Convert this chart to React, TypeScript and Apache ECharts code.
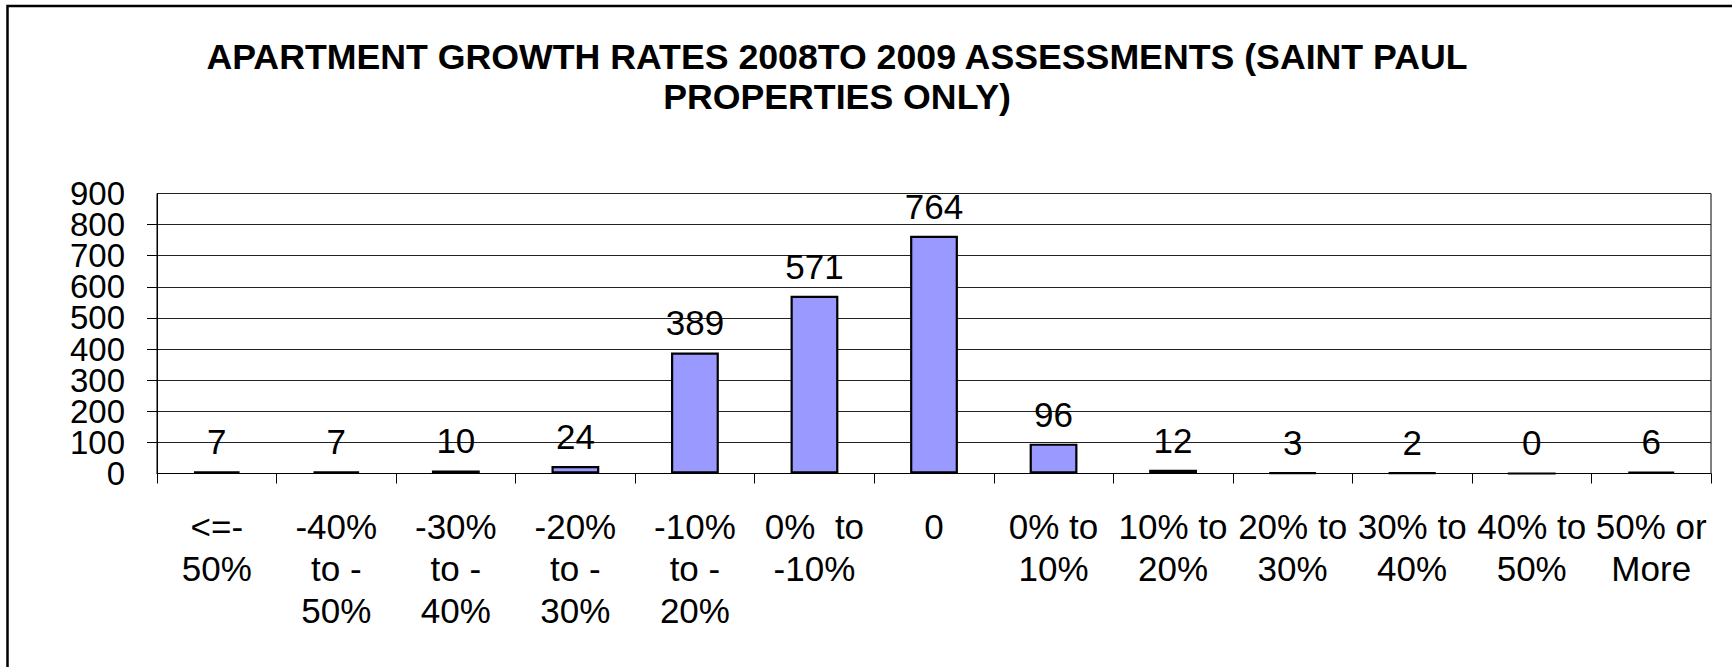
import React, { useEffect, useRef } from "react";
import * as echarts from "echarts";

const titleLines = [
  "APARTMENT GROWTH RATES 2008TO 2009 ASSESSMENTS (SAINT PAUL",
  "PROPERTIES ONLY)",
];
const categories = [
  "<=-\n50%",
  "-40%\nto -\n50%",
  "-30%\nto -\n40%",
  "-20%\nto -\n30%",
  "-10%\nto -\n20%",
  "0%  to\n-10%",
  "0",
  "0% to\n10%",
  "10% to\n20%",
  "20% to\n30%",
  "30% to\n40%",
  "40% to\n50%",
  "50% or\nMore",
];
const counts = [7, 7, 10, 24, 389, 571, 764, 96, 12, 3, 2, 0, 6];
const yTicks = { min: 0, max: 900, interval: 100 };

const FONT = "'Liberation Sans', Arial, Helvetica, sans-serif";

const yLabelStyle = {
  margin: 32,
  fontFamily: FONT,
  fontSize: 33,
  lineHeight: 20,
  color: "#000",
};

export default function App() {
  const ref = useRef<HTMLDivElement>(null);
  useEffect(() => {
    if (!ref.current) return;
    const chart = echarts.init(ref.current, undefined, { renderer: "svg" });
    chart.setOption({
      animation: false,
      backgroundColor: "#fff",
      title: {
        text: titleLines.join("\n"),
        left: 837,
        top: 37,
        padding: 0,
        textAlign: "center",
        textStyle: {
          fontFamily: FONT,
          fontSize: 35.7,
          fontWeight: "bold",
          lineHeight: 40,
          color: "#000",
        },
      },
      graphic: [
        {
          type: "polyline",
          shape: { points: [[7.5, 667], [7.5, 6], [1732, 6]] },
          style: { stroke: "#000", lineWidth: 2.5, fill: null },
          silent: true,
        },
      ],
      grid: {
        left: 157,
        right: 21,
        top: 193.5,
        bottom: 193.5,
        show: true,
        borderColor: "#000",
        borderWidth: 1,
        backgroundColor: "transparent",
      },
      xAxis: {
        type: "category",
        data: categories,
        boundaryGap: true,
        axisLine: { show: true, lineStyle: { color: "#000", width: 1 } },
        axisTick: {
          show: true,
          alignWithLabel: false,
          length: 10,
          inside: false,
          lineStyle: { color: "#000", width: 1 },
        },
        axisLabel: {
          interval: 0,
          margin: 32,
          fontFamily: FONT,
          fontSize: 35,
          lineHeight: 42,
          color: "#000",
          align: "center",
          verticalAlign: "top",
        },
        splitLine: { show: false },
      },
      yAxis: [
        {
          type: "value",
          position: "left",
          min: yTicks.min,
          max: yTicks.max,
          interval: yTicks.interval,
          axisLine: { show: true, lineStyle: { color: "#000", width: 1 } },
          axisTick: {
            show: true,
            length: 10,
            inside: false,
            lineStyle: { color: "#000", width: 1 },
          },
          axisLabel: {
            ...yLabelStyle,
            showMinLabel: false,
            showMaxLabel: false,
          },
          splitLine: { show: true, lineStyle: { color: "#222", width: 1 } },
        },
        {
          type: "value",
          position: "left",
          offset: 0,
          min: yTicks.min,
          max: yTicks.max,
          interval: yTicks.max - yTicks.min,
          axisLine: { show: false },
          axisTick: { show: false },
          axisLabel: {
            ...yLabelStyle,
            showMinLabel: true,
            showMaxLabel: true,
          },
          splitLine: { show: false },
        },
      ],
      series: [
        {
          type: "bar",
          data: counts,
          yAxisIndex: 0,
          barWidth: "40%",
          clip: false,
          itemStyle: { color: "#9999FF", borderColor: "#000", borderWidth: 2.2 },
          label: {
            show: true,
            position: "top",
            distance: 12,
            fontFamily: FONT,
            fontSize: 35,
            color: "#000",
          },
        },
      ],
    });
    return () => chart.dispose();
  }, []);
  return (
    <div
      ref={ref}
      style={{ position: "fixed", left: 0, top: 0, width: 1732, height: 667 }}
    />
  );
}
